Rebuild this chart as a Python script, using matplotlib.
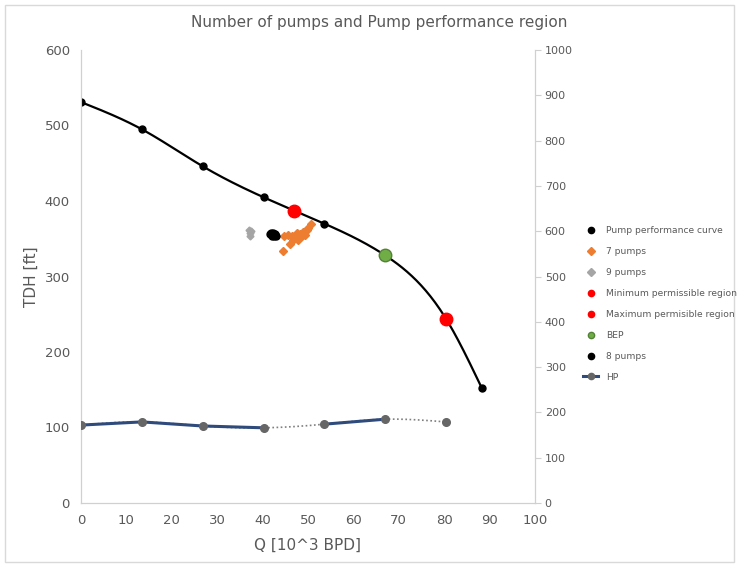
import numpy as np
import matplotlib
matplotlib.use("Agg")
import matplotlib.pyplot as plt
from matplotlib.patches import Rectangle

# Pump performance curve (Q in 10^3 BPD, TDH in ft)
curve_q = [0, 13.4, 26.8, 40.2, 53.6, 67.0, 80.4, 88.3]
curve_tdh = [531, 495, 446, 405, 370, 328, 244, 152]

# operating points
q_7 = [44.4, 46.0, 44.8, 45.7, 46.4, 46.8, 47.1, 47.5, 47.9, 48.2, 48.6, 49.0, 49.3, 49.7, 50.1, 50.6]
tdh_7 = [334, 343, 354, 355, 353, 349, 354, 357, 348, 356, 353, 359, 355, 362, 364, 370]
q_9 = [37.0, 37.4, 37.2, 37.3]
tdh_9 = [362, 360, 357, 354]
q_8 = [41.6, 41.9, 42.3, 42.7, 43.0, 42.5, 42.0, 42.8]
tdh_8 = [356, 357, 357, 355, 354, 353, 354, 356]

q_min, tdh_min = [46.9], [387]
q_max, tdh_max = [80.4], [244]
q_bep, tdh_bep = [67.0], [328]

# HP on secondary axis
hp_q = [0, 13.4, 26.8, 40.2, 53.6, 67.0, 80.4]
hp = [172, 179, 170, 166, 174, 185, 179]
hp_solid = [True, True, True, False, True, False]   # segment i -> i+1 drawn solid


def smooth(x, y, n=40):
    # natural cubic spline through the points, only for drawing the line
    x = np.asarray(x, float); y = np.asarray(y, float)
    k = len(x)
    h = np.diff(x)
    A = np.zeros((k, k)); r = np.zeros(k)
    A[0, 0] = A[-1, -1] = 1
    for i in range(1, k-1):
        A[i, i-1] = h[i-1]; A[i, i] = 2*(h[i-1]+h[i]); A[i, i+1] = h[i]
        r[i] = 6*((y[i+1]-y[i])/h[i] - (y[i]-y[i-1])/h[i-1])
    M = np.linalg.solve(A, r)
    xs, ys = [], []
    for i in range(k-1):
        t = np.linspace(x[i], x[i+1], n)
        a = (x[i+1]-t)/h[i]; b = (t-x[i])/h[i]
        s = a*y[i] + b*y[i+1] + ((a**3-a)*M[i] + (b**3-b)*M[i+1])*h[i]**2/6
        xs.extend(t); ys.extend(s)
    return np.array(xs), np.array(ys)


txt = "#595959"
fig = plt.figure(figsize=(7.39, 5.67), dpi=100)
ax = fig.add_axes([81/739, 1-503/567, (535-81)/739, 453/567])
ax2 = ax.twinx()

sx, sy = smooth(curve_q, curve_tdh)
ax.plot(sx, sy, color="black", lw=1.6, zorder=2)
ax.plot(curve_q, curve_tdh, "o", color="black", ms=5, zorder=3, label="Pump performance curve")
ax.plot(q_7, tdh_7, "D", color="#ED7D31", ms=4.5, mec="#ED7D31", zorder=3, label="7 pumps")
ax.plot(q_9, tdh_9, "D", color="#A5A5A5", ms=3.5, zorder=3, label="9 pumps")
ax.plot(q_min, tdh_min, "o", color="#FF0000", ms=9, zorder=4, label="Minimum permissible region")
ax.plot(q_max, tdh_max, "o", color="#FF0000", ms=9, zorder=4, label="Maximum permisible region")
ax.plot(q_bep, tdh_bep, "o", color="#70AD47", mec="#548235", mew=1, ms=9, zorder=4, label="BEP")
ax.plot(q_8, tdh_8, "o", color="black", ms=5, zorder=3, label="8 pumps")

hx, hy = smooth(hp_q, hp)
ax2.plot(hx, hy, ls=(0, (1, 1.5)), color="#7F7F7F", lw=1.2, zorder=2)
for i, solid in enumerate(hp_solid):
    if solid:
        ax2.plot(hp_q[i:i+2], hp[i:i+2], color="#2F4B7C", lw=2.2, zorder=3)
ax2.plot(hp_q, hp, "o", color="#666666", ms=5.5, zorder=4)
ax.plot([], [], color="#2F4B7C", lw=2.2, marker="o", mfc="#666666", mec="#666666", ms=5.5, label="HP")

ax.set_xlim(0, 100)
ax.set_ylim(0, 600)
ax2.set_ylim(0, 1000)
ax.set_xticks(np.arange(0, 101, 10))
ax.set_yticks(np.arange(0, 601, 100))
ax2.set_yticks(np.arange(0, 1001, 100))

for a in (ax, ax2):
    for s in a.spines.values():
        s.set_color("#D0D0D0")
    a.spines["top"].set_visible(False)
ax.tick_params(axis="both", length=0, labelsize=9.5, labelcolor=txt, pad=8)
ax2.tick_params(axis="y", length=4, color="#D0D0D0", labelsize=8, labelcolor=txt, pad=3)

ax.set_ylabel("TDH [ft]", fontsize=11, color=txt, labelpad=4)
ax.set_xlabel("Q [10^3 BPD]", fontsize=11, color=txt, labelpad=8)
fig.text(0.513, 1-22/567, "Number of pumps and Pump performance region",
         ha="center", va="center", fontsize=11, color=txt)

handles, labels = ax.get_legend_handles_labels()
leg = fig.legend(handles, labels, loc="upper left", bbox_to_anchor=(575/739, 1-218/567),
                 frameon=False, fontsize=6.6, labelcolor=txt, labelspacing=1.3,
                 handlelength=1.6, handletextpad=0.9)
for h in leg.legend_handles:
    h.set_markersize(4.5)

fig.patches.append(Rectangle((5/739, 5/567), 729/739, 557/567, transform=fig.transFigure,
                             fill=False, ec="#D9D9D9", lw=1))

fig.savefig("out.png", dpi=100)
